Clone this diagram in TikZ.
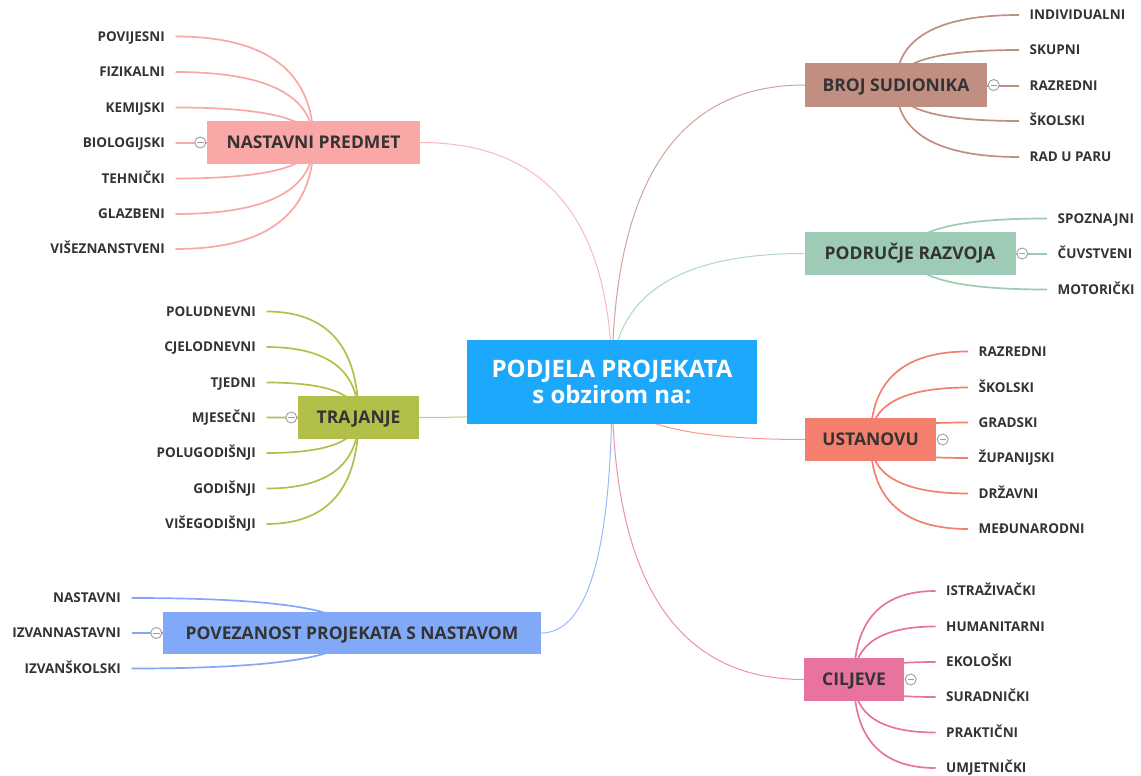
\documentclass[tikz,border=0pt]{standalone}
\usepackage{fontspec}
\setmainfont{Open Sans}
\usetikzlibrary{calc}
\pgfdeclarelayer{bg}
\pgfsetlayers{bg,main}
\definecolor{ctext}{HTML}{333333}
\definecolor{cmain}{HTML}{1DA9FB}
\definecolor{cnp}{HTML}{F9A7A7}
\definecolor{cbs}{HTML}{C18E82}
\definecolor{cpr}{HTML}{9DCBB6}
\definecolor{cus}{HTML}{F47F6E}
\definecolor{cci}{HTML}{E8739E}
\definecolor{ctr}{HTML}{B2C04A}
\definecolor{cpv}{HTML}{82A8F8}
\tikzset{
  branch/.style={fill=#1, inner sep=0, minimum height=43,
    font=\fontsize{17.5}{20}\selectfont\bfseries, text=ctext,
    text height=12.6, text depth=0},
  leaf/.style={inner xsep=10.5, inner ysep=0,
    font=\fontsize{13.5}{15}\selectfont\bfseries, text=ctext,
    text height=9.7, text depth=0},
  leafline/.style={line width=1.7, draw=#1},
  mainline/.style={line width=1, draw=#1!80},
  collapse/.style={circle, draw=gray!75, fill=white, line width=0.9,
    minimum size=11, inner sep=0,
    path picture={\draw[gray!75,line width=0.9]
      ([xshift=-3.2]path picture bounding box.center) --
      ([xshift=3.2]path picture bounding box.center);}}
}
% quadratic curve: start #2, control (#2 x, #3 y), end #3
\newcommand\qcurv[3]{%
  \draw[#1] (#2) .. controls ($(#2)!0.6667!(#2 |- #3)$) and ($(#3)!0.6667!(#2 |- #3)$) .. (#3);}
\begin{document}
\begin{tikzpicture}[x=1pt,y=-1pt]
\useasboundingbox (0,0) rectangle (1141,776);
% central node
\node[fill=cmain, minimum width=290, minimum height=84, inner sep=0,
  align=center, text=white, font=\fontsize{24}{25.5}\selectfont\bfseries]
  (c) at (612,382) {PODJELA PROJEKATA\\s obzirom na:};
% branch nodes
\node[branch=cnp, minimum width=213] (np) at (313.5,142.5) {NASTAVNI PREDMET};
\node[branch=cbs, minimum width=182] (bs) at (896,85) {BROJ SUDIONIKA};
\node[branch=cpr, minimum width=211] (pr) at (910,253.5) {PODRUČJE RAZVOJA};
\node[branch=cus, minimum width=131] (us) at (870.5,439.5) {USTANOVU};
\node[branch=cci, minimum width=100] (ci) at (854,679.5) {CILJEVE};
\node[branch=ctr, minimum width=121] (tr) at (358.5,417.5) {TRAJANJE};
\node[branch=cpv, minimum width=378, minimum height=42] (pv) at (352,633) {POVEZANOST PROJEKATA S NASTAVOM};
% main connectors
\begin{pgfonlayer}{bg}
\qcurv{mainline=cnp}{c.center}{np.east}
\qcurv{mainline=cbs}{c.center}{bs.west}
\qcurv{mainline=cpr}{c.center}{pr.west}
\qcurv{mainline=cus}{c.center}{us.west}
\qcurv{mainline=cci}{c.center}{ci.west}
\qcurv{mainline=ctr}{c.center}{tr.east}
\qcurv{mainline=cpv}{c.center}{pv.east}
\end{pgfonlayer}
% leaves: BROJ SUDIONIKA
\foreach \y/\t [count=\i] in {15/INDIVIDUALNI,50/SKUPNI,86/RAZREDNI,121/ŠKOLSKI,157/RAD U PARU}{
  \node[leaf, anchor=west] (bs\i) at (1019,\y) {\t};
  \begin{pgfonlayer}{bg}
  \qcurv{leafline=cbs}{bs.center}{bs\i.west}
  \end{pgfonlayer}
}
% leaves: PODRUČJE RAZVOJA
\foreach \y/\t [count=\i] in {218.5/SPOZNAJNI,254/ČUVSTVENI,289.5/MOTORIČKI}{
  \node[leaf, anchor=west] (pr\i) at (1047,\y) {\t};
  \begin{pgfonlayer}{bg}
  \qcurv{leafline=cpr}{pr.center}{pr\i.west}
  \end{pgfonlayer}
}
% leaves: USTANOVU
\foreach \y/\t [count=\i] in {351.5/RAZREDNI,387.5/ŠKOLSKI,422.5/GRADSKI,458/ŽUPANIJSKI,493.5/DRŽAVNI,529/MEĐUNARODNI}{
  \node[leaf, anchor=west] (us\i) at (968,\y) {\t};
  \begin{pgfonlayer}{bg}
  \qcurv{leafline=cus}{us.center}{us\i.west}
  \end{pgfonlayer}
}
% leaves: CILJEVE
\foreach \y/\t [count=\i] in {591/ISTRAŽIVAČKI,626.5/HUMANITARNI,662/EKOLOŠKI,697/SURADNIČKI,732.5/PRAKTIČNI,768/UMJETNIČKI}{
  \node[leaf, anchor=west] (ci\i) at (935.5,\y) {\t};
  \begin{pgfonlayer}{bg}
  \qcurv{leafline=cci}{ci.center}{ci\i.west}
  \end{pgfonlayer}
}
% leaves: NASTAVNI PREDMET
\foreach \y/\t [count=\i] in {36.5/POVIJESNI,72/FIZIKALNI,107.5/KEMIJSKI,143/BIOLOGIJSKI,178.5/TEHNIČKI,214/GLAZBENI,249/VIŠEZNANSTVENI}{
  \node[leaf, anchor=east] (np\i) at (175.5,\y) {\t};
  \begin{pgfonlayer}{bg}
  \qcurv{leafline=cnp}{np.center}{np\i.east}
  \end{pgfonlayer}
}
% leaves: TRAJANJE
\foreach \y/\t [count=\i] in {311.5/POLUDNEVNI,347/CJELODNEVNI,382.5/TJEDNI,417.5/MJESEČNI,453/POLUGODIŠNJI,488.5/GODIŠNJI,524/VIŠEGODIŠNJI}{
  \node[leaf, anchor=east] (tr\i) at (266.5,\y) {\t};
  \begin{pgfonlayer}{bg}
  \qcurv{leafline=ctr}{tr.center}{tr\i.east}
  \end{pgfonlayer}
}
% leaves: POVEZANOST
\foreach \y/\t [count=\i] in {598/NASTAVNI,633/IZVANNASTAVNI,668.5/IZVANŠKOLSKI}{
  \node[leaf, anchor=east] (pv\i) at (131.5,\y) {\t};
  \begin{pgfonlayer}{bg}
  \qcurv{leafline=cpv}{pv.center}{pv\i.east}
  \end{pgfonlayer}
}
% collapse markers
\node[collapse] (kbs) at ([xshift=6.5]bs.east) {};
\node[collapse] (kpr) at ([xshift=6.5]pr.east) {};
\node[collapse] (kus) at ([xshift=6.5]us.east) {};
\node[collapse] (kci) at ([xshift=6.5]ci.east) {};
\node[collapse] (knp) at ([xshift=-6.5]np.west) {};
\node[collapse] (ktr) at ([xshift=-6.5]tr.west) {};
\node[collapse] (kpv) at ([xshift=-6.5]pv.west) {};
\end{tikzpicture}
\end{document}
